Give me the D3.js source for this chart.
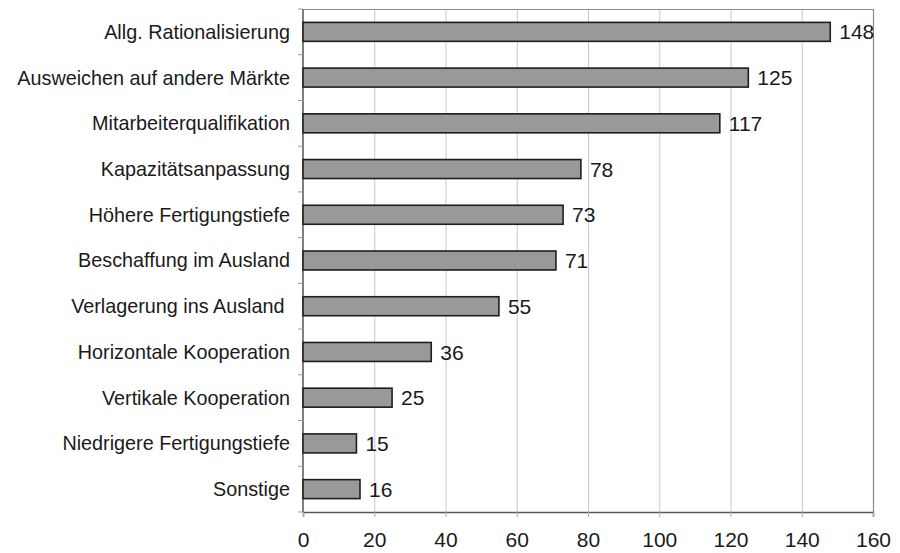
<!DOCTYPE html>
<html><head><meta charset="utf-8">
<script src="https://cdn.jsdelivr.net/npm/d3@7"></script>
<style>body{margin:0;background:#fff}svg{display:block}text{font-family:"Liberation Sans",Arial,sans-serif}</style>
</head><body><svg id="c" width="900" height="553"></svg>
<script>
const categories = ["Allg. Rationalisierung","Ausweichen auf andere Märkte","Mitarbeiterqualifikation","Kapazitätsanpassung","Höhere Fertigungstiefe","Beschaffung im Ausland","Verlagerung ins Ausland ","Horizontale Kooperation","Vertikale Kooperation","Niedrigere Fertigungstiefe","Sonstige"];
const values = [148,125,117,78,73,71,55,36,25,15,16];
const xTicks = [0,20,40,60,80,100,120,140,160];

const svg = d3.select("#c");
const L=303, R=873, T=9, B=512;
const x = d3.scaleLinear().domain([0,160]).range([L,R]);
const y = d3.scaleBand().domain(categories).range([T,B]).paddingInner(0.585).paddingOuter(0.2925);

// gridlines
svg.append("g").selectAll("line").data(xTicks.filter(d=>d>0)).join("line")
  .attr("x1",d=>x(d)+0.5).attr("x2",d=>x(d)+0.5).attr("y1",T).attr("y2",B)
  .attr("stroke","#c8c8c8").attr("stroke-width",1);

// frame top/right
svg.append("path").attr("d",`M${L},${T+0.5}H${R+0.5}V${B}`).attr("fill","none").attr("stroke","#8a8a8a").attr("stroke-width",1.2);

// x axis
const xa = svg.append("g").attr("transform",`translate(0,${B})`)
  .call(d3.axisBottom(x).tickValues(xTicks).tickSize(5).tickPadding(15));
xa.select(".domain").attr("stroke","#555").attr("stroke-width",1.5);
xa.selectAll(".tick line").attr("stroke","#aaa");
xa.selectAll("text").attr("font-size",21).attr("fill","#1a1a1a").attr("font-family","Liberation Sans, Arial, sans-serif");

// y axis line and ticks at boundaries
svg.append("line").attr("x1",L).attr("x2",L).attr("y1",T).attr("y2",B).attr("stroke","#555").attr("stroke-width",1.5);
const bounds = d3.range(categories.length+1).map(i=>T+i*y.step());
svg.append("g").selectAll("line").data(bounds).join("line")
  .attr("x1",L-5).attr("x2",L).attr("y1",d=>d).attr("y2",d=>d).attr("stroke","#999");

// category labels
svg.append("g").selectAll("text").data(categories).join("text")
  .attr("x",290).attr("y",d=>y(d)+y.bandwidth()/2).attr("dy","0.35em")
  .attr("text-anchor","end").attr("font-size",19.8).attr("fill","#1a1a1a")
  .style("white-space","pre").text(d=>d);

// bars
svg.append("g").selectAll("rect").data(values).join("rect")
  .attr("x",x(0)).attr("y",(d,i)=>y(categories[i]))
  .attr("width",d=>x(d)-x(0)).attr("height",y.bandwidth())
  .attr("fill","#999999").attr("stroke","#1e1e1e").attr("stroke-width",1.6);

// value labels
svg.append("g").selectAll("text").data(values).join("text")
  .attr("x",d=>x(d)+9).attr("y",(d,i)=>y(categories[i])+y.bandwidth()/2).attr("dy","0.36em")
  .attr("font-size",21).attr("fill","#1a1a1a").text(d=>d);
</script></body></html>
